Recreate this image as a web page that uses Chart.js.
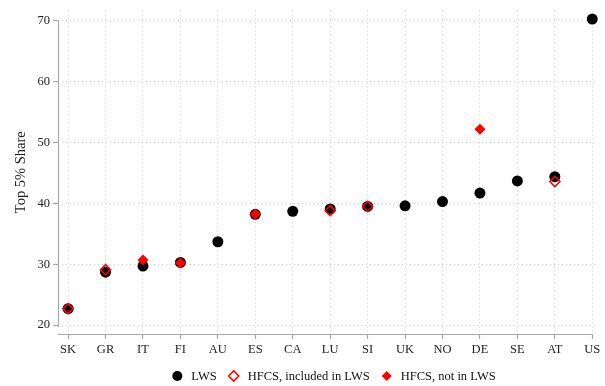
<!DOCTYPE html>
<html>
<head>
<meta charset="utf-8">
<script src="https://cdn.jsdelivr.net/npm/chart.js@4"></script>
<style>
  html, body { margin: 0; padding: 0; background: #fff; }
  #wrap { width: 605px; height: 386px; }
</style>
</head>
<body>
<div id="wrap"><canvas id="c" width="605" height="386"></canvas></div>
<script>
// Countries, ordered by LWS top 5% share
const countries = ['SK','GR','IT','FI','AU','ES','CA','LU','SI','UK','NO','DE','SE','AT','US'];
// Top 5% wealth share, LWS
const lws = [22.7, 28.7, 29.7, 30.3, 33.7, 38.2, 38.7, 39.1, 39.5, 39.6, 40.3, 41.7, 43.7, 44.4, 70.3];
// HFCS, countries also covered in LWS
const hfcsIncluded = [22.7, 29.1, null, null, null, null, null, 38.8, 39.5, null, null, null, null, 43.6, null];
// HFCS, countries not in LWS
const hfcsNotIn = [null, null, 30.7, 30.2, null, 38.2, null, null, null, null, null, 52.2, null, null, null];
// Y-axis tick values
const yTicks = [20, 30, 40, 50, 60, 70];

const toPoints = arr => arr.map((v, i) => (v === null ? null : { x: i, y: v })).filter(p => p);

const serif = 'Liberation Serif';
const axisGray = '#a8a8a8';
const gridGray = '#cfcfcf';

// Stata-style axis lines: y line spans the tick range, x line spans the plot width
const axisLines = {
  id: 'axisLines',
  afterDraw(chart) {
    const { ctx, scales: { x, y }, chartArea } = chart;
    ctx.save();
    ctx.strokeStyle = axisGray;
    ctx.lineWidth = 1.2;
    ctx.beginPath();
    ctx.moveTo(chartArea.left + 0.5, y.getPixelForValue(yTicks[yTicks.length - 1]));
    ctx.lineTo(chartArea.left + 0.5, y.getPixelForValue(yTicks[0]) + 2);
    ctx.stroke();
    ctx.beginPath();
    ctx.moveTo(chartArea.left, chartArea.bottom + 0.5);
    ctx.lineTo(x.getPixelForValue(countries.length - 1), chartArea.bottom + 0.5);
    ctx.stroke();
    ctx.restore();
  }
};

// Single-row legend under the plot, centred on the plot region
const rowLegend = {
  id: 'rowLegend',
  afterDraw(chart) {
    const { ctx, chartArea } = chart;
    const font = '12.5px "' + serif + '"';
    ctx.save();
    ctx.font = font;
    const items = chart.data.datasets.map(ds => ({ ds, w: ctx.measureText(ds.label).width }));
    const markerW = 10, textGap = 9, itemGap = 12;
    const total = items.reduce((s, it) => s + markerW + textGap + it.w, 0) + itemGap * (items.length - 1);
    let xPos = (chartArea.left + chartArea.right) / 2 + 7 - total / 2;
    const yMid = 376;
    items.forEach(({ ds, w }) => {
      ctx.fillStyle = ds.backgroundColor;
      ctx.strokeStyle = ds.borderColor;
      ctx.lineWidth = ds.borderWidth;
      Chart.helpers.drawPoint(ctx, {
        pointStyle: ds.pointStyle,
        radius: 5,
        borderWidth: ds.borderWidth
      }, xPos + markerW / 2, yMid);
      ctx.fillStyle = '#111';
      ctx.textBaseline = 'middle';
      ctx.textAlign = 'left';
      ctx.fillText(ds.label, xPos + markerW + textGap, yMid + 0.5);
      xPos += markerW + textGap + w + itemGap;
    });
    ctx.restore();
  }
};

new Chart(document.getElementById('c'), {
  type: 'scatter',
  data: {
    datasets: [
      {
        label: 'LWS',
        data: toPoints(lws),
        pointStyle: 'circle',
        pointRadius: 5.5,
        backgroundColor: '#000',
        borderColor: '#000',
        borderWidth: 0,
        clip: false,
        order: 3
      },
      {
        label: 'HFCS, included in LWS',
        data: toPoints(hfcsIncluded),
        pointStyle: 'rectRot',
        pointRadius: 5,
        backgroundColor: 'rgba(0,0,0,0)',
        borderColor: '#ff0000',
        borderWidth: 1.6,
        clip: false,
        order: 2
      },
      {
        label: 'HFCS, not in LWS',
        data: toPoints(hfcsNotIn),
        pointStyle: 'rectRot',
        pointRadius: 5.5,
        backgroundColor: '#ff0000',
        borderColor: '#ff0000',
        borderWidth: 0,
        clip: false,
        order: 1
      }
    ]
  },
  plugins: [axisLines, rowLegend],
  options: {
    responsive: false,
    animation: false,
    devicePixelRatio: 1,
    layout: { padding: { left: 0, right: 9, top: 7, bottom: 30 } },
    plugins: {
      tooltip: { enabled: false },
      legend: { display: false }
    },
    scales: {
      x: {
        type: 'linear',
        min: -0.27,
        max: 14.1,
        afterBuildTicks: s => { s.ticks = countries.map((c, i) => ({ value: i })); },
        afterFit: s => { s.height = 22; },
        ticks: {
          autoSkip: false,
          maxRotation: 0,
          padding: 3,
          color: '#222',
          font: { family: serif, size: 12.5 },
          callback: (v) => countries[v]
        },
        grid: {
          color: gridGray,
          lineWidth: 1,
          drawTicks: true,
          tickLength: 5,
          tickColor: axisGray,
          tickWidth: 1.2
        },
        border: { display: false, dash: [1, 3] }
      },
      y: {
        type: 'linear',
        min: 18.54,
        max: 71.7,
        afterBuildTicks: s => { s.ticks = yTicks.map(v => ({ value: v })); },
        afterFit: s => { s.width = 58; },
        ticks: {
          padding: 3,
          color: '#222',
          font: { family: serif, size: 12.5 }
        },
        title: {
          display: true,
          text: 'Top 5% Share',
          color: '#222',
          font: { family: serif, size: 14.5 },
          padding: { top: 12, bottom: 0 }
        },
        grid: {
          color: gridGray,
          lineWidth: 1,
          drawTicks: true,
          tickLength: 5,
          tickColor: axisGray,
          tickWidth: 1.2
        },
        border: { display: false, dash: [1, 3] }
      }
    }
  }
});
</script>
</body>
</html>
